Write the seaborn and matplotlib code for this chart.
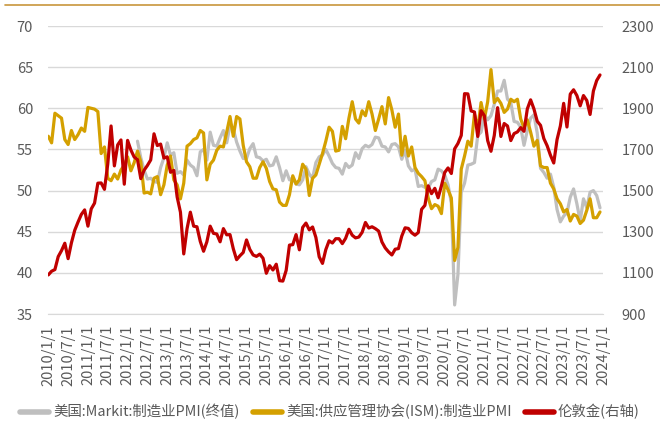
import matplotlib.pyplot as plt
import numpy as np
import pandas as pd
import seaborn as sns
from matplotlib.lines import Line2D

# monthly data, 2010/1 .. 2023/12
months = pd.date_range("2010-01-01", "2023-12-01", freq="MS")

ism_pmi = [
    56.6, 55.8, 59.4, 59.1, 58.8, 56.2, 55.6, 57.3, 56.2, 56.8, 57.6, 57.2,
    60.1, 60.0, 59.9, 59.6, 54.5, 55.3, 51.5, 51.2, 52.0, 51.4, 52.5, 53.1,
    54.1, 52.4, 53.4, 54.8, 53.5, 49.7, 49.8, 49.6, 51.5, 51.7, 49.5, 50.7,
    53.1, 54.2, 51.3, 50.7, 49.0, 50.9, 55.4, 55.7, 56.2, 56.4, 57.3, 57.0,
    51.3, 53.2, 53.7, 54.9, 55.4, 55.3, 57.1, 59.0, 56.6, 59.0, 58.7, 55.5,
    53.5, 52.9, 51.5, 51.5, 52.8, 53.5, 52.7, 51.1, 50.2, 50.1, 48.6, 48.2,
    48.2, 49.5, 51.8, 50.8, 51.3, 53.2, 52.6, 49.4, 51.5, 51.9, 53.2, 54.5,
    56.0, 57.7, 57.2, 54.8, 54.9, 57.8, 56.3, 58.8, 60.8, 58.7, 58.2, 59.7,
    59.1, 60.8, 59.3, 57.3, 58.7, 60.2, 58.1, 61.3, 59.8, 57.7, 59.3, 54.3,
    56.6, 54.2, 55.3, 52.8, 52.1, 51.7, 51.2, 49.1, 47.8, 48.3, 48.1, 47.2,
    50.9, 50.1, 49.1, 41.5, 43.1, 52.6, 54.2, 56.0, 55.4, 59.3, 57.5, 60.7,
    58.7, 60.8, 64.7, 60.7, 61.2, 60.6, 59.5, 59.9, 61.1, 60.8, 61.1, 58.7,
    57.6, 58.6, 57.1, 55.4, 56.1, 53.0, 52.8, 52.8, 50.9, 50.2, 49.0, 48.4,
    47.4, 47.7, 46.3, 47.1, 46.9, 46.0, 46.4, 47.6, 49.0, 46.7, 46.7, 47.4,
]

# Markit series starts in 2012/4
markit_pmi = [np.nan] * 27 + [
    56.0, 54.0, 52.5, 51.4, 51.5, 51.1, 51.0, 52.8, 54.0,
    55.8, 54.3, 54.6, 52.1, 52.3, 51.9, 53.7, 53.1, 52.8, 51.8, 54.7, 55.0,
    53.7, 57.1, 55.5, 55.4, 56.4, 57.3, 55.8, 57.9, 57.5, 55.9, 54.8, 53.9,
    53.9, 55.1, 55.7, 54.1, 54.0, 53.6, 53.8, 53.0, 53.1, 54.1, 52.8, 51.2,
    52.4, 51.3, 51.5, 50.8, 50.7, 51.3, 52.9, 52.0, 51.5, 53.4, 54.1, 54.3,
    55.0, 54.2, 53.3, 52.8, 52.7, 52.0, 53.3, 52.8, 53.1, 54.6, 53.9, 55.1,
    55.5, 55.3, 55.6, 56.5, 56.4, 55.4, 55.3, 54.7, 55.6, 55.7, 55.3, 53.8,
    54.9, 53.0, 52.4, 52.6, 50.5, 50.6, 50.4, 50.3, 51.1, 51.3, 52.6, 52.4,
    51.9, 50.7, 48.5, 36.1, 39.8, 49.8, 50.9, 53.1, 53.2, 53.4, 56.7, 57.1,
    59.2, 58.6, 59.1, 60.5, 62.1, 62.1, 63.4, 61.1, 60.7, 58.4, 58.3, 57.7,
    55.5, 57.3, 58.8, 59.2, 57.0, 52.7, 52.2, 51.5, 52.0, 50.4, 47.7, 46.2,
    46.9, 47.3, 49.2, 50.2, 48.4, 46.3, 49.0, 47.9, 49.8, 50.0, 49.4, 47.9,
]

london_gold = [
    1090, 1108, 1116, 1179, 1208, 1244, 1169, 1246, 1307, 1347, 1384, 1406,
    1327, 1411, 1439, 1536, 1537, 1506, 1629, 1814, 1620, 1722, 1746, 1531,
    1744, 1697, 1663, 1651, 1558, 1599, 1622, 1649, 1776, 1719, 1726, 1658,
    1664, 1589, 1598, 1469, 1395, 1192, 1315, 1395, 1327, 1324, 1253, 1205,
    1251, 1327, 1292, 1289, 1251, 1315, 1285, 1286, 1217, 1164, 1183, 1199,
    1260, 1214, 1187, 1180, 1191, 1171, 1098, 1135, 1114, 1142, 1062, 1060,
    1112, 1235, 1237, 1286, 1212, 1321, 1342, 1309, 1323, 1272, 1178, 1146,
    1213, 1256, 1245, 1266, 1266, 1242, 1268, 1312, 1283, 1270, 1274, 1297,
    1345, 1318, 1324, 1315, 1303, 1250, 1221, 1202, 1187, 1215, 1218, 1279,
    1319, 1316, 1295, 1283, 1296, 1409, 1428, 1523, 1485, 1511, 1465, 1523,
    1588, 1610, 1583, 1703, 1729, 1768, 1971, 1970, 1887, 1882, 1763, 1888,
    1864, 1743, 1691, 1768, 1903, 1763, 1826, 1814, 1743, 1777, 1785, 1806,
    1788, 1897, 1941, 1897, 1837, 1817, 1753, 1718, 1672, 1634, 1748, 1814,
    1924, 1809, 1969, 1990, 1962, 1912, 1962, 1938, 1870, 1984, 2035, 2062,
]

tick_dates = pd.date_range("2010-01-01", "2024-01-01", freq="6MS")
tick_labels = [f"{d.year}/{d.month}/1" for d in tick_dates]

label_markit = "美国:Markit:制造业PMI(终值)"
label_ism = "美国:供应管理协会(ISM):制造业PMI"
label_gold = "伦敦金(右轴)"

df = pd.DataFrame({
    "idx": np.arange(len(months)),
    "markit": markit_pmi,
    "ism": ism_pmi,
    "gold": london_gold,
})
tick_pos = [(d.year - 2010) * 12 + d.month - 1 for d in tick_dates]

sns.set_style("white")
plt.rcParams["font.family"] = ["Noto Sans CJK SC", "DejaVu Sans"]
text_color = "#595959"
grid_color = "#D9D9D9"

fig = plt.figure(figsize=(6.6, 4.43), dpi=100)
ax = fig.add_axes([48.3 / 660, 1 - 314 / 443, 555 / 660, 288 / 443])
ax2 = ax.twinx()

sns.lineplot(data=df, x="idx", y="markit", ax=ax, color="#BFBFBF", linewidth=2.3, legend=False)
sns.lineplot(data=df, x="idx", y="ism", ax=ax, color="#D4A000", linewidth=2.3, legend=False)
sns.lineplot(data=df, x="idx", y="gold", ax=ax2, color="#C00000", linewidth=2.3, legend=False)

ax.set_xlim(0, 168)
ax.set_ylim(35, 70)
ax2.set_ylim(900, 2300)
ax.set_yticks(np.arange(35, 71, 5))
ax2.set_yticks(np.arange(900, 2301, 200))
ax.set_xticks(tick_pos)
ax.set_xticklabels(tick_labels, rotation=90)
ax.set_xlabel("")
ax.set_ylabel("")
ax2.set_ylabel("")

ax.yaxis.grid(True, color=grid_color, linewidth=1)
ax.xaxis.grid(False)
ax2.grid(False)
for a in (ax, ax2):
    for side in ("left", "right", "top", "bottom"):
        a.spines[side].set_visible(False)
ax.spines["bottom"].set_visible(True)
ax.spines["bottom"].set_color(grid_color)

ax.tick_params(axis="x", length=5, color=grid_color, labelsize=10.5, labelcolor=text_color, pad=3)
ax.tick_params(axis="y", length=0, labelsize=10.5, labelcolor=text_color, pad=11)
ax2.tick_params(axis="y", length=0, labelsize=10.5, labelcolor=text_color, pad=13)

handles = [
    Line2D([], [], color="#BFBFBF", linewidth=4),
    Line2D([], [], color="#D4A000", linewidth=4),
    Line2D([], [], color="#C00000", linewidth=4),
]
fig.legend(handles, [label_markit, label_ism, label_gold], loc="center",
           bbox_to_anchor=(0.5, 1 - 412 / 443), ncol=3, frameon=False,
           fontsize=10.4, handlelength=2.0, handletextpad=0.3, columnspacing=0.9,
           labelcolor=text_color)

# thin rule along the top edge
fig.add_artist(Line2D([5 / 660, 1.0], [1 - 4.5 / 443, 1 - 4.5 / 443],
                      color="#C8963C", linewidth=1.2, transform=fig.transFigure))

fig.savefig("out.png", dpi=100)
